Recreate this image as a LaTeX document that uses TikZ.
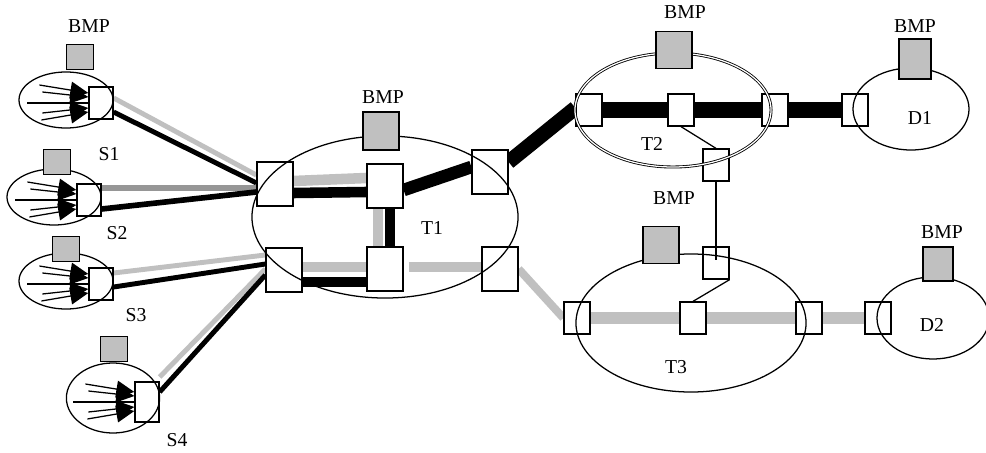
\documentclass[tikz,border=0pt]{standalone}
\usepackage{fontspec}
\setmainfont{Liberation Serif}
\usetikzlibrary{shapes.geometric,arrows.meta,calc,backgrounds}

\definecolor{lgray}{HTML}{C0C0C0}
\definecolor{mgray}{HTML}{969696}

\tikzset{
  box/.style 2 args={draw, line width=0.9pt, fill=white, inner sep=0pt, minimum width=#1, minimum height=#2},
  sport/.style={box={0.6cm}{0.8cm}},
  tport/.style={box={0.9cm}{1.1cm}},
  nport/.style={box={0.65cm}{0.8cm}},
  bmp/.style 2 args={draw, line width=0.9pt, fill=lgray, inner sep=0pt, minimum width=#1, minimum height=#2},
  cloud/.style 2 args={draw, line width=0.9pt, ellipse, inner sep=0pt, minimum width=#1, minimum height=#2},
  lbl/.style={font=\fontsize{14}{16}\selectfont, inner sep=0pt},
  band/.style={line width=#1},
  srcarr/.style={line width=0.9pt, -{Triangle[length=0.45cm, width=0.42cm]}},
}

\begin{document}
\begin{tikzpicture}[x=0.025cm, y=-0.025cm]
\useasboundingbox (0,0) rectangle (986,453);

\node[sport] (S1p) at (101,103) {};
\node[sport] (S2p) at (89,200) {};
\node[sport] (S3p) at (101,284) {};
\node[sport, minimum height=1cm] (S4p) at (147,402) {};

\node[tport] (T1a) at (275,184) {};
\node[tport] (T1b) at (284,270) {};
\node[tport] (T1c) at (385,186) {};
\node[tport] (T1d) at (385,269) {};
\node[tport] (T1e) at (490,172) {};
\node[tport] (T1f) at (500,269) {};

\node[nport] (T2a) at (589,110) {};
\node[nport] (T2b) at (681,110) {};
\node[nport] (T2c) at (775,110) {};
\node[nport] (T2g) at (716,165) {};
\node[nport] (D1p) at (855,110) {};

\node[nport] (T3a) at (577,318) {};
\node[nport] (T3b) at (693,318) {};
\node[nport] (T3c) at (809,318) {};
\node[nport] (T3g) at (716,263) {};
\node[nport] (D2p) at (878,318) {};

\begin{scope}[on background layer]
\draw[band=3.5pt, lgray] ($(S1p.east)+(0,-5)$) -- ($(T1a.west)+(0,-9)$);
\draw[band=3.5pt] ($(S1p.east)+(0,9)$) -- ($(T1a.west)+(0,-1)$);
\draw[band=4pt, mgray] ($(S2p.east)+(0,-12)$) -- ($(T1a.west)+(0,4)$);
\draw[band=4pt] ($(S2p.east)+(0,9)$) -- ($(T1a.west)+(0,8)$);
\draw[band=3.5pt, lgray] ($(S3p.east)+(0,-11)$) -- ($(T1b.west)+(0,-15)$);
\draw[band=3.5pt] ($(S3p.east)+(0,3)$) -- ($(T1b.west)+(0,-6)$);
\draw[band=3.5pt, lgray] ($(S4p.east)+(0,-25)$) -- ($(T1b.west)+(0,-1)$);
\draw[band=3.5pt] ($(S4p.east)+(0,-10)$) -- ($(T1b.west)+(0,5)$);

\draw[band=7.5pt, lgray] ($(T1a.east)+(0,-3)$) -- ($(T1c.west)+(0,-8)$);
\draw[band=7.5pt] ($(T1a.east)+(0,9)$) -- ($(T1c.west)+(0,6)$);
\draw[band=9pt] ($(T1c.east)+(0,4)$) -- ($(T1e.west)+(0,-5)$);
\draw[band=7.5pt, lgray] ($(T1c.south)+(-7,0)$) -- ($(T1d.north)+(-7,0)$);
\draw[band=7.5pt] ($(T1c.south)+(5,0)$) -- ($(T1d.north)+(5,0)$);
\draw[band=7.5pt, lgray] ($(T1b.east)+(0,-3)$) -- ($(T1d.west)+(0,-2)$);
\draw[band=7.5pt] ($(T1b.east)+(0,12)$) -- ($(T1d.west)+(0,13)$);
\draw[band=7.5pt, lgray] ($(T1d.east)+(5,-2)$) -- ($(T1f.west)+(0,-2)$);

\draw[band=10.5pt] ($(T1e.east)+(0,-10)$) -- ($(T2a.west)+(0,-2)$);
\draw[band=5.7pt, lgray] (T1f.east) -- (T3a.west);

\draw[band=12pt] (T2a) -- (T2b);
\draw[band=12pt] (T2b) -- (T2c);
\draw[band=12pt] (T2c) -- (D1p);
\draw[line width=0.9pt] (T2b.south) -- (T2g.north);

\draw[band=8pt, lgray] (T3a) -- (T3b);
\draw[band=8pt, lgray] (T3b) -- (T3c);
\draw[band=8pt, lgray] (T3c) -- (D2p);
\draw[line width=0.9pt] (T3g.south east) -- (T3b.north);
\end{scope}

\node[cloud={2.35cm}{1.4cm}] (S1) at (66,100) {};
\node[cloud={2.35cm}{1.4cm}] (S2) at (54,197) {};
\node[cloud={2.35cm}{1.4cm}] (S3) at (66,281) {};
\node[cloud={2.33cm}{1.75cm}] (S4) at (113,398) {};
\node[cloud={6.65cm}{4.05cm}] (T1) at (385,217) {};
\node[cloud={4.9cm}{2.85cm}, line width=0.6pt, double, double distance=0.9pt] (T2) at (673,110) {};
\node[cloud={2.9cm}{2.05cm}] (D1) at (911,109) {};
\node[cloud={5.75cm}{3.45cm}] (T3) at (691,323) {};
\node[cloud={2.8cm}{2.05cm}] (D2) at (933,318) {};

\node[bmp={0.68cm}{0.63cm}] (M1) at (80,57) {};
\node[bmp={0.68cm}{0.63cm}] (M2) at (57,162) {};
\node[bmp={0.68cm}{0.63cm}] (M3) at (66,249) {};
\node[bmp={0.68cm}{0.63cm}] (M4) at (114,349) {};
\node[bmp={0.9cm}{0.95cm}] (MT1) at (381,131) {};
\node[bmp={0.9cm}{0.93cm}] (MT2) at (674,50) {};
\node[bmp={0.9cm}{0.93cm}] (MT3) at (661,245) {};
\node[bmp={0.8cm}{1cm}] (MD1) at (915,59) {};
\node[bmp={0.75cm}{0.85cm}] (MD2) at (938,264) {};

\draw[line width=1.1pt] (T2g.south) -- ($(T3g.center)+(0,-3)$);

\foreach \s in {S1p,S2p,S3p,S4p}{
  \foreach \ax/\ay/\by in {-49/-18/-10, -46/-11/-6, -46/10/5, -47/17/9}
    \draw[srcarr, shift={(\s.west)}] (\ax,\ay) -- (0,\by);
  \draw[line width=0.9pt, shift={(\s.west)}] (-61,0) -- (0,0);
}

\node[lbl] (B1) at (89,26) {BMP};
\node[lbl] (B2) at (383,97) {BMP};
\node[lbl] (B3) at (685,12) {BMP};
\node[lbl] (B4) at (915,26) {BMP};
\node[lbl] (B5) at (674,198) {BMP};
\node[lbl] (B6) at (942,232) {BMP};

\node[lbl] (LS1) at (109,154) {S1};
\node[lbl] (LS2) at (117,233) {S2};
\node[lbl] (LS3) at (136,315) {S3};
\node[lbl] (LS4) at (177,440) {S4};
\node[lbl] (LT1) at (432,228) {T1};
\node[lbl] (LT2) at (652,144) {T2};
\node[lbl] (LT3) at (676,367) {T3};
\node[lbl] (LD1) at (920,118) {D1};
\node[lbl] (LD2) at (932,325) {D2};
\end{tikzpicture}
\end{document}
